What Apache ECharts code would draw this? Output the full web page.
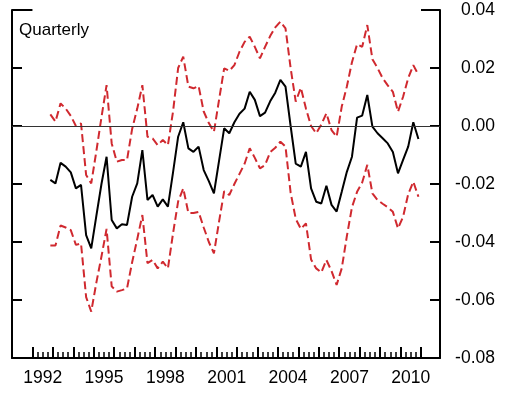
<!DOCTYPE html>
<html>
<head>
<meta charset="utf-8">
<script src="https://cdn.jsdelivr.net/npm/echarts@6/dist/echarts.min.js"></script>
<style>
  html, body { margin: 0; padding: 0; background: #fff; }
  #chart { width: 506px; height: 394px; }
</style>
</head>
<body>
<div id="chart"></div>
<script>
// Quarterly periods covered by the series: 1992Q4 .. 2010Q4
const firstYear = 1992, firstQuarter = 4, lastYear = 2010, lastQuarter = 4;
const periods = [];
for (let y = firstYear, q = firstQuarter; y < lastYear || (y === lastYear && q <= lastQuarter); ) {
  periods.push(y + 'Q' + q);
  q++; if (q > 4) { q = 1; y++; }
}

// Point estimate (solid black)
const estimate = [
  -0.0186, -0.0198, -0.0127, -0.0140, -0.0160, -0.0215, -0.0203, -0.0376,
  -0.0422, -0.0310, -0.0200, -0.0106, -0.0324, -0.0353, -0.0339, -0.0341,
  -0.0244, -0.0198, -0.0083, -0.0255, -0.0238, -0.0278, -0.0253, -0.0278,
  -0.0160, -0.0037,  0.0013, -0.0077, -0.0089, -0.0071, -0.0152, -0.0190,
  -0.0232, -0.0120, -0.0008, -0.0025,  0.0013,  0.0042,  0.0060,  0.0118,
   0.0090,  0.0034,  0.0046,  0.0085,  0.0115,  0.0159,  0.0136,  0.0000,
  -0.0130, -0.0140, -0.0089, -0.0215, -0.0261, -0.0267, -0.0206, -0.0272,
  -0.0295, -0.0227, -0.0158, -0.0106,  0.0029,  0.0036,  0.0107, -0.0002,
  -0.0025, -0.0042, -0.0060, -0.0090, -0.0163, -0.0117, -0.0071,  0.0013,
  -0.0045
];

// Upper band (dashed red)
const upperBand = [
   0.0040,  0.0015,  0.0078,  0.0060,  0.0035,  0.0000,  0.0009, -0.0169,
  -0.0198, -0.0087,  0.0030,  0.0141, -0.0060, -0.0123, -0.0117, -0.0117,
  -0.0010,  0.0060,  0.0141, -0.0037, -0.0043, -0.0066, -0.0048, -0.0066,
   0.0050,  0.0200,  0.0239,  0.0136,  0.0130,  0.0138,  0.0050,  0.0010,
  -0.0020,  0.0090,  0.0199,  0.0190,  0.0210,  0.0256,  0.0290,  0.0308,
   0.0273,  0.0233,  0.0273,  0.0310,  0.0340,  0.0360,  0.0337,  0.0200,
   0.0084,  0.0132,  0.0060,  0.0000, -0.0025,  0.0005,  0.0044, -0.0014,
  -0.0037,  0.0067,  0.0136,  0.0220,  0.0282,  0.0273,  0.0348,  0.0230,
   0.0200,  0.0165,  0.0140,  0.0118,  0.0049,  0.0101,  0.0165,  0.0210,
   0.0176
];

// Lower band (dashed red)
const lowerBand = [
  -0.0412, -0.0412, -0.0343, -0.0350, -0.0359, -0.0410, -0.0405, -0.0590,
  -0.0640, -0.0540, -0.0450, -0.0355, -0.0553, -0.0571, -0.0566, -0.0560,
  -0.0470, -0.0390, -0.0307, -0.0473, -0.0462, -0.0491, -0.0468, -0.0491,
  -0.0370, -0.0260, -0.0215, -0.0300, -0.0300, -0.0296, -0.0350, -0.0400,
  -0.0439, -0.0330, -0.0225, -0.0238, -0.0200, -0.0165, -0.0130, -0.0077,
  -0.0110, -0.0146, -0.0135, -0.0090, -0.0075, -0.0054, -0.0071, -0.0230,
  -0.0320, -0.0355, -0.0336, -0.0460, -0.0491, -0.0505, -0.0462, -0.0500,
  -0.0548, -0.0491, -0.0380, -0.0280, -0.0227, -0.0195, -0.0134, -0.0232,
  -0.0255, -0.0268, -0.0280, -0.0296, -0.0353, -0.0313, -0.0235, -0.0192,
  -0.0244
];

// Axis settings
const yTicks = [-0.08, -0.06, -0.04, -0.02, 0.00, 0.02, 0.04];
const labelYears = [1992, 1995, 1998, 2001, 2004, 2007, 2010];
const tickYearStart = 1992, tickYearEnd = 2011;
const xMin = 1991, xMax = 2011.93;

// Each quarter is placed at its mid-point within the year
function periodToX(p) {
  const [y, q] = p.split('Q').map(Number);
  return y + (q - 0.5) / 4;
}
const toPairs = arr => arr.map((v, i) => [periodToX(periods[i]), v]);

const FONT = 'Liberation Sans, Arial, Helvetica, sans-serif';
const W = 506, H = 394;
const plot = { left: 12, right: 66, top: 10, bottom: 36 };
const pxPerYear = (W - plot.left - plot.right) / (xMax - xMin);
const tickGrid = {
  left: plot.left + (tickYearStart - xMin) * pxPerYear,
  right: plot.right + (xMax - tickYearEnd) * pxPerYear,
  top: plot.top, bottom: plot.bottom
};

const red = '#d0292f';
const chart = echarts.init(document.getElementById('chart'), null, { renderer: 'canvas' });

chart.setOption({
  animation: false,
  backgroundColor: '#fff',
  title: {
    text: 'Quarterly', left: 14, top: 17,
    textStyle: { fontFamily: FONT, fontSize: 17, fontWeight: 'normal', color: '#000' }
  },
  grid: [
    Object.assign({ containLabel: false, outerBoundsMode: 'none' }, plot),
    Object.assign({ containLabel: false, outerBoundsMode: 'none' }, tickGrid)
  ],
  xAxis: [
    {
      gridIndex: 0, type: 'value', position: 'bottom', min: xMin, max: xMax,
      axisLine: { show: true, onZero: false, lineStyle: { color: '#000', width: 2 } },
      axisTick: { show: false }, axisLabel: { show: false },
      splitLine: { show: false }
    },
    {
      gridIndex: 1, type: 'value', position: 'bottom',
      min: tickYearStart, max: tickYearEnd, interval: 1,
      axisLine: { show: false, onZero: false },
      axisTick: { show: true, inside: true, length: 11, lineStyle: { color: '#000', width: 2 } },
      minorTick: { show: true, splitNumber: 4, length: 6, lineStyle: { color: '#000', width: 1.5 } },
      axisLabel: { show: false },
      splitLine: { show: false }, minorSplitLine: { show: false }
    },
    {
      gridIndex: 1, type: 'value', position: 'bottom', offset: 0,
      min: tickYearStart, max: tickYearEnd, interval: 0.5,
      axisLine: { show: false, onZero: false },
      axisTick: { show: false },
      axisLabel: {
        show: true, margin: 11, hideOverlap: false,
        fontFamily: FONT, fontSize: 17.5, color: '#000',
        formatter: v => {
          const y = Math.round(v - 0.5);
          return (Math.abs(v - y - 0.5) < 1e-6 && labelYears.includes(y)) ? String(y) : '';
        }
      },
      splitLine: { show: false }
    }
  ],
  yAxis: [
    {
      gridIndex: 0, type: 'value', position: 'right',
      min: yTicks[0], max: yTicks[yTicks.length - 1], interval: 0.02,
      axisLine: { show: true, onZero: false, lineStyle: { color: '#000', width: 2 } },
      axisTick: { show: true, inside: true, length: 10, lineStyle: { color: '#000', width: 2 } },
      axisLabel: {
        show: true, inside: false, margin: 55, align: 'right',
        padding: [4, 0, 0, 0],
        fontFamily: FONT, fontSize: 17.5, color: '#000',
        formatter: v => v.toFixed(2)
      },
      splitLine: { show: false }
    },
    {
      gridIndex: 0, type: 'value', position: 'left',
      min: yTicks[0], max: yTicks[yTicks.length - 1], interval: 0.02,
      axisLine: { show: true, onZero: false, lineStyle: { color: '#000', width: 2 } },
      axisTick: { show: true, inside: true, length: 10, lineStyle: { color: '#000', width: 2 } },
      axisLabel: { show: false },
      splitLine: { show: false }
    },
    { gridIndex: 1, type: 'value', show: false, min: 0, max: 1 }
  ],
  series: [
    {
      name: 'Upper band', type: 'line', xAxisIndex: 0, yAxisIndex: 0,
      data: toPairs(upperBand), symbol: 'none', z: 2,
      lineStyle: { color: red, width: 2, type: [8, 4] }
    },
    {
      name: 'Lower band', type: 'line', xAxisIndex: 0, yAxisIndex: 0,
      data: toPairs(lowerBand), symbol: 'none', z: 2,
      lineStyle: { color: red, width: 2, type: [8, 4] }
    },
    {
      name: 'Estimate', type: 'line', xAxisIndex: 0, yAxisIndex: 0,
      data: toPairs(estimate), symbol: 'none', z: 3,
      lineStyle: { color: '#000', width: 2 },
      markLine: {
        silent: true, symbol: 'none', animation: false,
        label: { show: false },
        data: [
          { yAxis: 0, lineStyle: { color: '#333', width: 1, type: 'solid' } },
          [
            { coord: [xMin, yTicks[yTicks.length - 1]], lineStyle: { color: '#000', width: 2, type: 'solid' } },
            { coord: [tickYearStart, yTicks[yTicks.length - 1]] }
          ],
          [
            { coord: [tickYearEnd, yTicks[yTicks.length - 1]], lineStyle: { color: '#000', width: 2, type: 'solid' } },
            { coord: [xMax, yTicks[yTicks.length - 1]] }
          ]
        ]
      }
    }
  ]
});
</script>
</body>
</html>
